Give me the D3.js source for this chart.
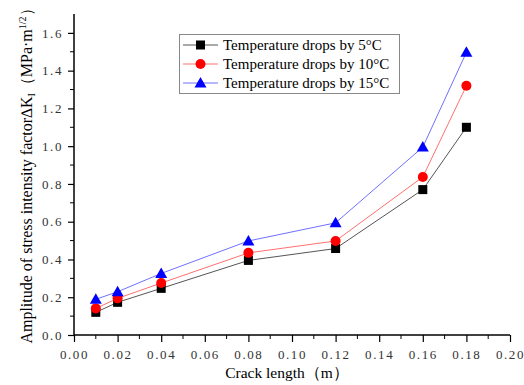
<!DOCTYPE html>
<html><head><meta charset="utf-8">
<script src="https://cdn.jsdelivr.net/npm/d3@7"></script>
<style>body{margin:0;background:#fff}svg{display:block}</style>
</head><body><svg id="c" width="524" height="385"></svg>
<script>
const crackLength = [0.01, 0.02, 0.04, 0.08, 0.12, 0.16, 0.18];
const drop5 = [0.12, 0.173, 0.247, 0.395, 0.458, 0.77, 1.10];
const drop10 = [0.141, 0.194, 0.275, 0.435, 0.498, 0.837, 1.32];
const drop15 = [0.189, 0.229, 0.326, 0.498, 0.594, 0.995, 1.497];
const seriesNames = ["Temperature drops by 5°C", "Temperature drops by 10°C", "Temperature drops by 15°C"];
const xTicks = [0, 0.02, 0.04, 0.06, 0.08, 0.10, 0.12, 0.14, 0.16, 0.18, 0.20];
const yTicks = [0, 0.2, 0.4, 0.6, 0.8, 1.0, 1.2, 1.4, 1.6];

const svg = d3.select("#c");
const L = 74, R = 510, T = 14, B = 335;
const x = d3.scaleLinear().domain([0, 0.2]).range([L, R]);
const y = d3.scaleLinear().domain([0, 1.7]).range([B, T]);
const tickFont = "'Liberation Serif', serif";

// minor ticks
const xMinor = d3.range(0.01, 0.2, 0.02);
const yMinor = d3.range(0.1, 1.7, 0.2);
svg.append("g").selectAll("line").data(xMinor).join("line")
  .attr("x1", d => x(d)).attr("x2", d => x(d)).attr("y1", B).attr("y2", B + 4)
  .attr("stroke", "#000").attr("stroke-width", 1);
svg.append("g").selectAll("line").data(yMinor).join("line")
  .attr("y1", d => y(d)).attr("y2", d => y(d)).attr("x1", L).attr("x2", L - 4)
  .attr("stroke", "#000").attr("stroke-width", 1);

const xAxis = svg.append("g").attr("transform", `translate(0,${B})`)
  .call(d3.axisBottom(x).tickValues(xTicks).tickSize(7).tickSizeOuter(0).tickPadding(8).tickFormat(d3.format(".2f")));
const yAxis = svg.append("g").attr("transform", `translate(${L},0)`)
  .call(d3.axisLeft(y).tickValues(yTicks).tickSize(6).tickSizeOuter(0).tickPadding(5).tickFormat(d3.format(".1f")));
[xAxis, yAxis].forEach(a => {
  a.select(".domain").attr("stroke", "#000").attr("stroke-width", 1.5);
  a.selectAll(".tick line").attr("stroke", "#000").attr("stroke-width", 1.2);
  a.selectAll("text").attr("font-family", tickFont).attr("font-size", 13).attr("fill", "#333")
    .style("letter-spacing", "1.6px");
});
yAxis.select(".domain").attr("d", `M0,${B}V${T}`);
xAxis.select(".domain").attr("d", `M${L},0H${R}`);

const lineColors = ["#555555", "#ff7070", "#7070ff"];
const markColors = ["#000000", "#ff0000", "#0000ff"];
const data = [drop5, drop10, drop15];
const line = d3.line().x((d, i) => x(crackLength[i])).y(d => y(d));
data.forEach((s, k) => {
  svg.append("path").datum(s).attr("d", line).attr("fill", "none")
    .attr("stroke", lineColors[k]).attr("stroke-width", 1);
});
function marker(g, k, cx, cy) {
  if (k === 0) g.append("rect").attr("x", cx - 4.5).attr("y", cy - 4.5).attr("width", 9).attr("height", 9).attr("fill", markColors[0]);
  else if (k === 1) g.append("circle").attr("cx", cx).attr("cy", cy).attr("r", 5).attr("fill", markColors[1]);
  else g.append("path").attr("d", `M${cx},${cy - 6}L${cx + 6},${cy + 4.5}L${cx - 6},${cy + 4.5}Z`).attr("fill", markColors[2]);
}
const mg = svg.append("g");
data.forEach((s, k) => s.forEach((v, i) => marker(mg, k, x(crackLength[i]), y(v))));

// legend
const lg = svg.append("g");
lg.append("rect").attr("x", 179.5).attr("y", 34.5).attr("width", 220).attr("height", 59)
  .attr("fill", "#fff").attr("stroke", "#888").attr("stroke-width", 1);
const rowY = [45, 64, 83];
seriesNames.forEach((n, k) => {
  lg.append("line").attr("x1", 183).attr("x2", 218).attr("y1", rowY[k]).attr("y2", rowY[k])
    .attr("stroke", lineColors[k]).attr("stroke-width", 1);
  marker(lg, k, 200.5, rowY[k]);
  lg.append("text").attr("x", 223).attr("y", rowY[k] + 5).text(n)
    .attr("font-family", tickFont).attr("font-size", 15).attr("fill", "#000");
});

// axis titles
svg.append("text").attr("x", 287).attr("y", 378).attr("text-anchor", "middle")
  .attr("font-family", tickFont).attr("font-size", 15.5).text("Crack length（m）");
const yt = svg.append("text").attr("transform", "translate(32,172) rotate(-90)").attr("text-anchor", "middle")
  .attr("font-family", tickFont).attr("font-size", 16);
yt.append("tspan").text("Amplitude of stress intensity factor∆K");
yt.append("tspan").attr("font-size", 10).attr("dy", 3).text("I");
yt.append("tspan").attr("dy", -3).text("（MPa·m");
yt.append("tspan").attr("font-size", 10).attr("dy", -6).text("1/2");
yt.append("tspan").attr("dy", 6).text("）");
</script></body></html>
